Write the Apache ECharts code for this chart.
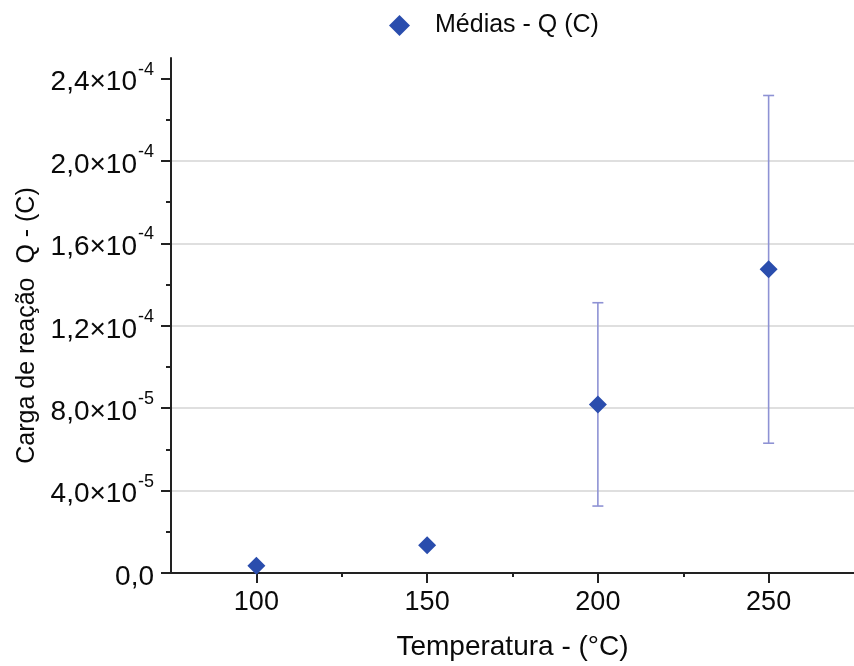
<!DOCTYPE html>
<html>
<head>
<meta charset="utf-8">
<script src="https://cdn.jsdelivr.net/npm/echarts@6/dist/echarts.min.js"></script>
<style>html,body{margin:0;padding:0;background:#fff;}#c{width:854px;height:666px;}</style>
</head>
<body>
<div id="c"></div>
<script>
// Data
const temperatures = [100, 150, 200, 250];
const meanCharge = [3.5e-6, 1.35e-5, 8.18e-5, 1.475e-4];
const errLow = [3.5e-6, 1.35e-5, 3.25e-5, 6.3e-5];
const errHigh = [3.5e-6, 1.35e-5, 1.312e-4, 2.318e-4];

const xTickValues = [100, 150, 200, 250];
const xMinorValues = [125, 175, 225];
const yTickValues = [0, 4e-5, 8e-5, 1.2e-4, 1.6e-4, 2.0e-4, 2.4e-4];
const yTickMantissa = ['0,0', '4,0×10', '8,0×10', '1,2×10', '1,6×10', '2,0×10', '2,4×10'];
const yTickExponent = ['', '-5', '-5', '-4', '-4', '-4', '-4'];
const yMinorValues = [2e-5, 6e-5, 1.0e-4, 1.4e-4, 1.8e-4, 2.2e-4];

const FONT = '"Liberation Sans", Arial, sans-serif';
const AXIS_COLOR = '#222';
const TEXT_COLOR = '#0a0a0a';

function yLabel(v) {
  let best = 0, bd = Infinity;
  for (let i = 0; i < yTickValues.length; i++) {
    const d = Math.abs(yTickValues[i] - v);
    if (d < bd) { bd = d; best = i; }
  }
  if (bd > 1e-7) return '';
  const e = yTickExponent[best];
  return e ? '{a|' + yTickMantissa[best] + '}{b|' + e + '}' : '{a|' + yTickMantissa[best] + '}';
}

const chart = echarts.init(document.getElementById('c'), null, {renderer: 'canvas'});
const scatterData = temperatures.map((t, i) => [t, meanCharge[i]]);
const errData = temperatures.map((t, i) => [t, errLow[i], errHigh[i]]);

chart.setOption({
  animation: false,
  backgroundColor: '#fff',
  textStyle: {fontFamily: FONT},
  legend: {
    top: 8,
    left: 384,
    itemWidth: 21,
    itemHeight: 21,
    textStyle: {fontSize: 25, color: TEXT_COLOR, fontFamily: FONT, padding: [0, 0, 0, 20]},
    data: ['Médias - Q (C)']
  },
  grid: {left: 171, top: 58, bottom: 91, right: -3, containLabel: false},
  xAxis: [{
    type: 'value',
    min: 75, max: 275,
    name: 'Temperatura - (°C)',
    nameLocation: 'middle',
    nameGap: 60,
    nameTextStyle: {fontSize: 28, color: TEXT_COLOR, fontFamily: FONT},
    axisLine: {show: true, lineStyle: {color: AXIS_COLOR, width: 2}},
    axisTick: {show: true, length: 10, lineStyle: {color: AXIS_COLOR, width: 2}, customValues: xTickValues},
    axisLabel: {fontSize: 27, color: TEXT_COLOR, margin: 16, fontFamily: FONT, customValues: xTickValues},
    splitLine: {show: false}
  }, {
    type: 'value',
    min: 75, max: 275,
    position: 'bottom',
    axisLine: {show: false},
    axisTick: {show: true, length: 4, lineStyle: {color: AXIS_COLOR, width: 2}, customValues: xMinorValues},
    axisLabel: {show: false},
    splitLine: {show: false}
  }],
  yAxis: [{
    type: 'value',
    min: 0, max: 2.5e-4,
    interval: 4e-5,
    name: 'Carga de reação  Q - (C)',
    nameLocation: 'middle',
    nameGap: 129,
    nameTextStyle: {fontSize: 25, color: TEXT_COLOR, fontFamily: FONT, padding: [0, 20, 0, 0]},
    axisLine: {show: true, lineStyle: {color: AXIS_COLOR, width: 2}},
    axisTick: {show: true, length: 10, lineStyle: {color: AXIS_COLOR, width: 2}, customValues: yTickValues},
    axisLabel: {
      margin: 17,
      color: TEXT_COLOR,
      customValues: yTickValues,
      formatter: yLabel,
      rich: {
        a: {fontSize: 28, lineHeight: 36, color: TEXT_COLOR, fontFamily: FONT, verticalAlign: 'bottom'},
        b: {fontSize: 18, lineHeight: 18, color: TEXT_COLOR, fontFamily: FONT, verticalAlign: 'top', padding: [0, 0, 0, 1]}
      }
    },
    splitLine: {show: true, showMinLine: false, showMaxLine: false, lineStyle: {color: '#d4d4d4', width: 1.5}}
  }, {
    type: 'value',
    min: 0, max: 2.5e-4,
    position: 'left',
    axisLine: {show: false},
    axisTick: {show: true, length: 5, lineStyle: {color: AXIS_COLOR, width: 2}, customValues: yMinorValues},
    axisLabel: {show: false},
    splitLine: {show: false}
  }],
  series: [{
    name: 'erro',
    type: 'custom',
    xAxisIndex: 0,
    yAxisIndex: 0,
    z: 2,
    data: errData,
    renderItem: function (params, api) {
      const x = api.value(0);
      const lo = api.coord([x, api.value(1)]);
      const hi = api.coord([x, api.value(2)]);
      const cap = 5.5;
      const style = {stroke: '#8e92d4', lineWidth: 1.6, fill: null};
      return {
        type: 'group',
        children: [
          {type: 'line', shape: {x1: hi[0], y1: hi[1], x2: lo[0], y2: lo[1]}, style: style},
          {type: 'line', shape: {x1: hi[0] - cap, y1: hi[1], x2: hi[0] + cap, y2: hi[1]}, style: style},
          {type: 'line', shape: {x1: lo[0] - cap, y1: lo[1], x2: lo[0] + cap, y2: lo[1]}, style: style}
        ]
      };
    }
  }, {
    name: 'Médias - Q (C)',
    type: 'scatter',
    xAxisIndex: 0,
    yAxisIndex: 0,
    z: 5,
    symbol: 'diamond',
    symbolSize: [18, 18],
    itemStyle: {color: '#2a4dad', opacity: 1},
    data: scatterData
  }]
});
</script>
</body>
</html>
